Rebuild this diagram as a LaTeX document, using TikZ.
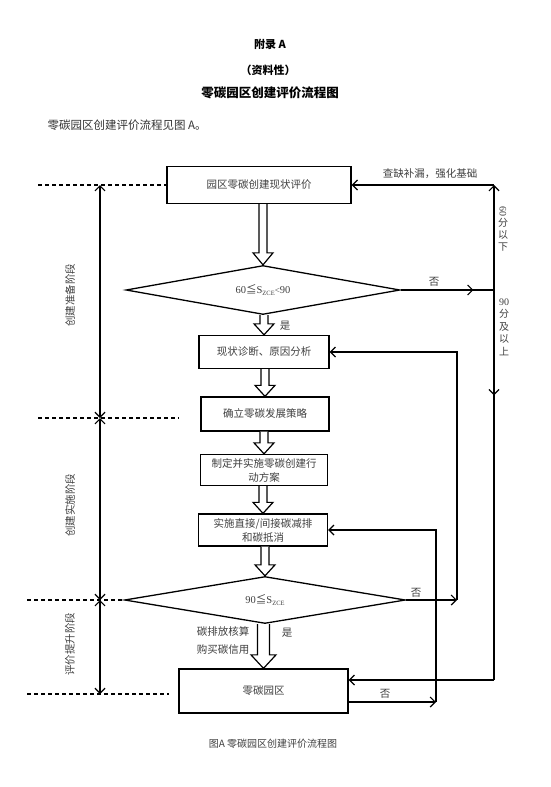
\documentclass[tikz,border=0pt]{standalone}
\usepackage{fontspec}
\setmainfont{Liberation Serif}
\newfontfamily\cjk{Noto Sans CJK SC}
\usetikzlibrary{arrows.meta,decorations.markings,calc,shapes.geometric}
\newcommand\subz{\raisebox{-2pt}{\fontsize{6.5}{7}\selectfont ZCE}}
% #1 shaft half width, #2 head half width, #3 head length, #4 from node, #5 to node
\newcommand\hollowarr[5]{%
  \draw[hol] let \p1=(#4.south), \p2=(#5.north) in
    ({\x2-#1},\y1) -- ({\x2-#1},{\y2+#3}) -- ({\x2-#2},{\y2+#3}) -- (\x2,\y2)
    -- ({\x2+#2},{\y2+#3}) -- ({\x2+#1},{\y2+#3}) -- ({\x2+#1},\y1);}
\begin{document}
\begin{tikzpicture}[x=1pt,y=-1pt,
  box/.style={draw, line width=1.3pt, inner sep=0pt, align=center,
    font=\cjk\fontsize{10.5}{14}\selectfont, text=black!75},
  dia/.style={draw, diamond, aspect=5.6, line width=1.3pt, inner sep=0pt,
    font=\fontsize{10.5}{13}\selectfont, text=black!75},
  lbl/.style={font=\cjk\fontsize{10.5}{13}\selectfont, text=black!75, inner sep=0pt},
  conn/.style={line width=1.2pt},
  arr/.style={conn, -{Straight Barb[length=5pt,width=10pt]}},
  darr/.style={conn, {Straight Barb[length=5pt,width=10pt]}-{Straight Barb[length=5pt,width=10pt]}},
  dashline/.style={line width=1.2pt, dash pattern=on 4pt off 3pt},
  hol/.style={line width=1.2pt, line join=miter, fill=white},
  midarr/.style={postaction={decorate}, decoration={markings,
    mark=at position #1 with {\arrow{Straight Barb[length=5pt,width=10pt]}}}}
]
\fill[white] (0,0) rectangle (551,787);
\useasboundingbox (0,0) rectangle (551,787);

% header
\node[font=\cjk\bfseries\fontsize{11}{13}\selectfont] (h1) at (270,44) {附录 A};
\node[font=\cjk\bfseries\fontsize{11}{13}\selectfont] (h2) at (268,70) {（资料性）};
\node[font=\cjk\bfseries\fontsize{12.5}{14}\selectfont] (h3) at (270,93) {零碳园区创建评价流程图};
\node[font=\cjk\fontsize{11.5}{14}\selectfont, anchor=west, text=black!80] (intro) at (44,125) {零碳园区创建评价流程见图 A。};

% main nodes
\node[box, minimum width=184pt, minimum height=37pt] (b1) at (259,185) {园区零碳创建现状评价};
\node[dia, minimum width=274pt, minimum height=49pt] (d1) at (263,290)
  {60{\cjk ≦}S\subz{\fontsize{9}{9}\selectfont<}90};
\node[box, minimum width=130pt, minimum height=33pt] (b2) at (264,352) {现状诊断、原因分析};
\node[box, minimum width=128pt, minimum height=34pt] (b3) at (265,414) {确立零碳发展策略};
\node[box, minimum width=127pt, minimum height=31pt] (b4) at (264,470) {制定并实施零碳创建行\\动方案};
\node[box, minimum width=129pt, minimum height=32pt] (b5) at (263,530) {实施直接/间接碳减排\\和碳抵消};
\node[dia, minimum width=281pt, minimum height=47pt] (d2) at (265,600) {90{\cjk ≦}S\subz};
\node[box, minimum width=169pt, minimum height=44pt] (b6) at (263.5,691) {零碳园区};

% hollow arrows
\hollowarr{4pt}{10pt}{12pt}{b1}{d1}
\hollowarr{4pt}{10pt}{11pt}{d1}{b2}
\hollowarr{4pt}{10pt}{11pt}{b2}{b3}
\hollowarr{4pt}{10pt}{11pt}{b3}{b4}
\hollowarr{4pt}{10pt}{11pt}{b4}{b5}
\hollowarr{4pt}{10pt}{11pt}{b5}{d2}
\hollowarr{6pt}{12.5pt}{13.5pt}{d2}{b6}

% right outer loop
\coordinate (r1) at (494,290);
\coordinate (rt) at (494,185);
\coordinate (rb) at (494,680);
\draw[conn, midarr=0.78] (d1.east) -- (r1);
\draw[arr] (r1) -- (rt);
\draw[arr] (rt) -- (b1.east);
\draw[conn, midarr=0.27] (r1) -- (rb);
\draw[arr] (rb) -- (b6.east |- rb);

% second loop
\coordinate (r2) at (457,600);
\draw[arr] (d2.east) -- (r2);
\draw[arr] (r2) |- (b2.east);

% third loop
\coordinate (r3b) at (436,702);
\coordinate (r3s) at (b6.east |- r3b);
\draw[arr] (r3s) -- (r3b);
\draw[arr] (r3b) |- (b5.east);

% labels on right
\node[lbl] (t1) at (430,174) {查缺补漏，强化基础};
\node[lbl] (n1) at (434,282) {否};
\node[lbl] (n2) at (416,593) {否};
\node[lbl] (n3) at (385,694) {否};
\node[lbl] (y1) at (285,326) {是};
\node[lbl] (y2) at (287,633) {是};
\node[lbl] (c1) at (223,631) {碳排放核算};
\node[lbl] (c2) at (223,650) {购买碳信用};
\node[lbl, align=center, font=\cjk\fontsize{10}{12}\selectfont] (v1) at (503,229)
  {\rotatebox{-90}{\rmfamily 60}\\分\\以\\下};
\node[lbl, align=center, font=\cjk\fontsize{10}{12.5}\selectfont] (v2) at (504,327)
  {{\rmfamily 90}\\分\\及\\以\\上};

% left phases
\coordinate (L1) at (100,185);
\coordinate (L2) at (100,418);
\coordinate (L3) at (100,600);
\coordinate (L4) at (100,694);
\coordinate (D1) at (38,185);
\coordinate (D2a) at (38,418);
\coordinate (D2b) at (179,418);
\coordinate (D3) at (27,600);
\coordinate (D4a) at (27,694);
\coordinate (D4b) at (169,694);
\draw[dashline] (D1) -- (b1.west);
\draw[dashline] (D2a) -- (D2b);
\draw[dashline] (D3) -- (d2.west);
\draw[dashline] (D4a) -- (D4b);
\draw[darr] (L2) -- (L1);
\draw[darr] (L3) -- (L2);
\draw[darr] (L4) -- (L3);
\node[lbl, rotate=90] (p1) at (70,295) {创建准备阶段};
\node[lbl, rotate=90] (p2) at (70,505) {创建实施阶段};
\node[lbl, rotate=90] (p3) at (70,644) {评价提升阶段};

% caption
\node[lbl, font=\cjk\fontsize{10}{12}\selectfont] (cap) at (273,744) {图A 零碳园区创建评价流程图};
\end{tikzpicture}
\end{document}
